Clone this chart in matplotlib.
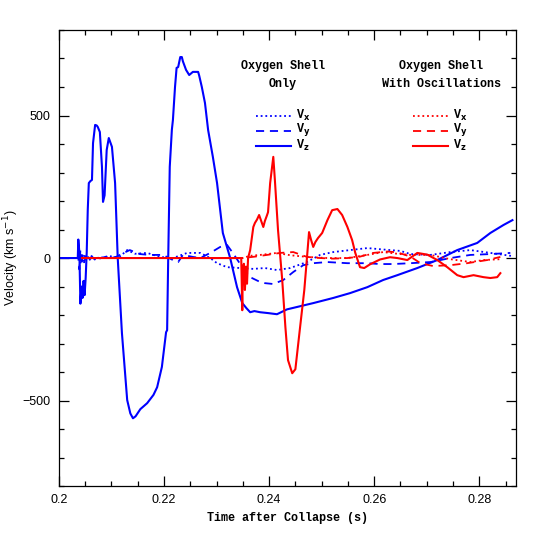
import matplotlib
matplotlib.use("Agg")
import matplotlib.pyplot as plt
from matplotlib.ticker import MultipleLocator, FuncFormatter

# (time [s], velocity [km/s])
blue_vx = [(0.2, 0), (0.2037, 0), (0.2039, 25), (0.2041, -20), (0.2043, 15), (0.2046, -10),
           (0.2049, 12), (0.2053, -5), (0.2058, 10), (0.2064, 5), (0.2070, -8), (0.2077, 5),
           (0.2085, 0), (0.2095, 8), (0.2105, 3), (0.2116, 5), (0.2130, 28), (0.2145, 15),
           (0.2168, 18), (0.2192, 4), (0.2217, 0), (0.2244, 18), (0.2269, 18), (0.2288, 0),
           (0.2301, -18), (0.2320, -32), (0.2345, -35), (0.2370, -38), (0.2392, -35),
           (0.2415, -42), (0.2440, -35), (0.2472, -14), (0.2497, 11), (0.2522, 21),
           (0.2554, 28), (0.2587, 35), (0.2617, 30), (0.2650, 25), (0.2669, 14),
           (0.2707, 11), (0.2745, 21), (0.2783, 28), (0.2821, 18), (0.2863, 7)]

blue_vy = [(0.2, 0), (0.2037, 0), (0.2039, -40), (0.2041, 30), (0.2043, -25), (0.2045, 10),
           (0.2048, -15), (0.2052, 8), (0.2057, -10), (0.2063, 5), (0.2070, -8), (0.2080, 0),
           (0.2090, 5), (0.2100, 0), (0.2110, 5), (0.2120, 15), (0.2135, 28), (0.2154, 14),
           (0.2173, 11), (0.2198, 11), (0.2217, -7), (0.2227, -14), (0.2236, 11),
           (0.2255, 4), (0.2269, 0), (0.2288, 18), (0.2307, 39), (0.2320, 46), (0.2331, 18),
           (0.2349, -32), (0.2364, -67), (0.2383, -84), (0.2392, -88), (0.2408, -91),
           (0.2427, -77), (0.2446, -49), (0.2465, -25), (0.2484, -18), (0.2511, -14),
           (0.2549, -18), (0.2587, -18), (0.2611, -21), (0.2636, -21), (0.2669, -18),
           (0.2707, -14), (0.2745, 0), (0.2783, 11), (0.2821, 14), (0.2859, 18)]

blue_vz = [(0.2, 0), (0.2036, 0), (0.2037, 65), (0.2039, 20), (0.2041, -160), (0.2043, -100),
           (0.2045, -140), (0.2047, -80), (0.2049, -130), (0.2051, -70), (0.2053, 20),
           (0.2055, 170), (0.2057, 263), (0.2060, 270), (0.2063, 274), (0.2065, 403),
           (0.2069, 467), (0.2072, 465), (0.2074, 460), (0.2078, 442), (0.2082, 320),
           (0.2084, 197), (0.2087, 220), (0.2091, 379), (0.2095, 421), (0.2101, 390),
           (0.2107, 263), (0.2112, 0), (0.2120, -263), (0.2130, -498), (0.2136, -545),
           (0.2141, -562), (0.2146, -555), (0.2155, -530), (0.2168, -509), (0.2180, -480),
           (0.2187, -453), (0.2196, -382), (0.2204, -260), (0.2206, -253), (0.2208, -7),
           (0.2211, 320), (0.2215, 450), (0.2217, 484), (0.2221, 600), (0.2224, 667),
           (0.2227, 670), (0.2231, 705), (0.2234, 705), (0.2236, 690), (0.2242, 660),
           (0.2248, 642), (0.2255, 653), (0.2265, 653), (0.2267, 640), (0.2272, 600),
           (0.2278, 544), (0.2284, 449), (0.2293, 355), (0.2301, 263), (0.2312, 88),
           (0.2326, 0), (0.2339, -102), (0.2349, -158), (0.2357, -176), (0.2364, -190),
           (0.2372, -186), (0.2383, -190), (0.2398, -193), (0.2415, -197), (0.2434, -180),
           (0.2459, -169), (0.2484, -158), (0.2522, -140), (0.2554, -123), (0.2587, -102),
           (0.2617, -77), (0.2644, -60), (0.2682, -35), (0.2720, -7), (0.2758, 28),
           (0.2796, 53), (0.2821, 88), (0.2846, 116), (0.2863, 133)]

red_vx = [(0.2044, 0), (0.2349, 0), (0.2364, 8), (0.2383, 11), (0.2415, 18), (0.2440, 10),
          (0.2472, 4), (0.2511, 0), (0.2549, 0), (0.2587, 11), (0.2617, 21), (0.2644, 15),
          (0.2669, 11), (0.2707, 11), (0.2745, -4), (0.2783, -14), (0.2808, -7),
          (0.2840, -4)]

red_vy = [(0.2044, 0), (0.2349, 0), (0.2373, 5), (0.2396, 11), (0.2421, 18), (0.2446, 21),
          (0.2472, 4), (0.2497, 0), (0.2522, -2), (0.2549, 0), (0.2573, 5), (0.2598, 18),
          (0.2625, 23), (0.2644, 20), (0.2669, 5), (0.2688, -18), (0.2712, -28),
          (0.2745, -25), (0.2777, -18), (0.2815, -7), (0.2840, 4)]

red_vz = [(0.2044, 0), (0.2347, 0), (0.2349, -183), (0.2350, -40), (0.2352, -20),
          (0.2354, -112), (0.2356, -30), (0.2358, -90), (0.2360, 0), (0.2364, 28),
          (0.2370, 109), (0.2373, 123), (0.2377, 135), (0.2381, 151), (0.2385, 130),
          (0.2389, 109), (0.2392, 130), (0.2396, 150), (0.2398, 161), (0.2402, 263),
          (0.2408, 355), (0.2411, 274), (0.2417, 98), (0.2425, -77), (0.2431, -242),
          (0.2436, -358), (0.2444, -404), (0.2450, -390), (0.2459, -242), (0.2467, -112),
          (0.2472, 0), (0.2476, 91), (0.2480, 63), (0.2484, 39), (0.2488, 56),
          (0.2493, 70), (0.2501, 88), (0.2511, 133), (0.2520, 168), (0.2530, 172),
          (0.2539, 151), (0.2549, 109), (0.2558, 63), (0.2564, 18), (0.2573, -32),
          (0.2581, -35), (0.2592, -22), (0.2611, -5), (0.2630, 3), (0.2644, 0),
          (0.2663, -7), (0.2682, 18), (0.2701, 12), (0.2720, -7), (0.2739, -32),
          (0.2758, -60), (0.2770, -67), (0.2789, -60), (0.2808, -67), (0.2821, -70),
          (0.2834, -67), (0.2840, -53)]

blue = "#0000ff"
red = "#ff0000"
dotted = (0, (1, 1.6))
dashed = (0, (4.5, 3.2))
label_font = "Liberation Mono"
tick_font = "Liberation Sans"

fig = plt.figure(figsize=(5.45, 5.45), dpi=100)
ax = fig.add_axes([0.108, 0.108, 0.839, 0.837])


def draw(series, color, ls, lw):
    t = [p[0] for p in series]
    v = [p[1] for p in series]
    ax.plot(t, v, color=color, linestyle=ls, linewidth=lw)


draw(blue_vx, blue, dotted, 1.3)
draw(blue_vy, blue, dashed, 1.3)
draw(blue_vz, blue, "-", 1.5)
draw(red_vx, red, dotted, 1.3)
draw(red_vy, red, dashed, 1.3)
draw(red_vz, red, "-", 1.5)

ax.set_xlim(0.2, 0.287)
ax.set_ylim(-800, 800)
ax.xaxis.set_major_locator(MultipleLocator(0.02))
ax.xaxis.set_minor_locator(MultipleLocator(0.005))
ax.yaxis.set_major_locator(MultipleLocator(500))
ax.yaxis.set_minor_locator(MultipleLocator(100))
ax.xaxis.set_major_formatter(FuncFormatter(lambda x, p: "%g" % round(x, 3)))
ax.tick_params(which="both", direction="in", top=True, right=True, width=0.9)
ax.tick_params(which="major", length=7, labelsize=9, pad=6)
ax.tick_params(which="minor", length=3.5)
for lab in ax.get_xticklabels() + ax.get_yticklabels():
    lab.set_family(tick_font)
for s in ax.spines.values():
    s.set_linewidth(0.9)

ax.set_xlabel("Time after Collapse (s)", family=label_font, fontsize=8.5,
              fontweight="bold", labelpad=4)

# legend drawn by hand, two columns
tr = fig.transFigure
def fx(px):
    return px / 545.0
def fy(py):
    return 1 - py / 545.0

fig.text(fx(11), fy(258), "Velocity (km s$^{-1}$)", family=tick_font, fontsize=9,
         rotation=90, ha="center", va="center")

head = dict(family=label_font, fontsize=8.5, fontweight="bold", ha="center", va="center")
fig.text(fx(283), fy(66), "Oxygen Shell", **head)
fig.text(fx(283), fy(84), "Only", **head)
fig.text(fx(441), fy(66), "Oxygen Shell", **head)
fig.text(fx(441), fy(84), "With Oscillations", **head)

rows = [("x", dotted, 1.3, 116), ("y", dashed, 1.3, 131), ("z", "-", 1.5, 146)]
for sub, ls, lw, py in rows:
    for color, x0 in [(blue, 256), (red, 413)]:
        fig.add_artist(plt.Line2D([fx(x0), fx(x0 + 35)], [fy(py), fy(py)], transform=tr,
                                  color=color, linestyle=ls, linewidth=lw))
        fig.text(fx(x0 + 40), fy(py - 1), "V$_{\\mathbf{%s}}$" % sub, family=label_font,
                 fontsize=8.5, fontweight="bold", ha="left", va="center")

fig.savefig("out.png", dpi=100)
